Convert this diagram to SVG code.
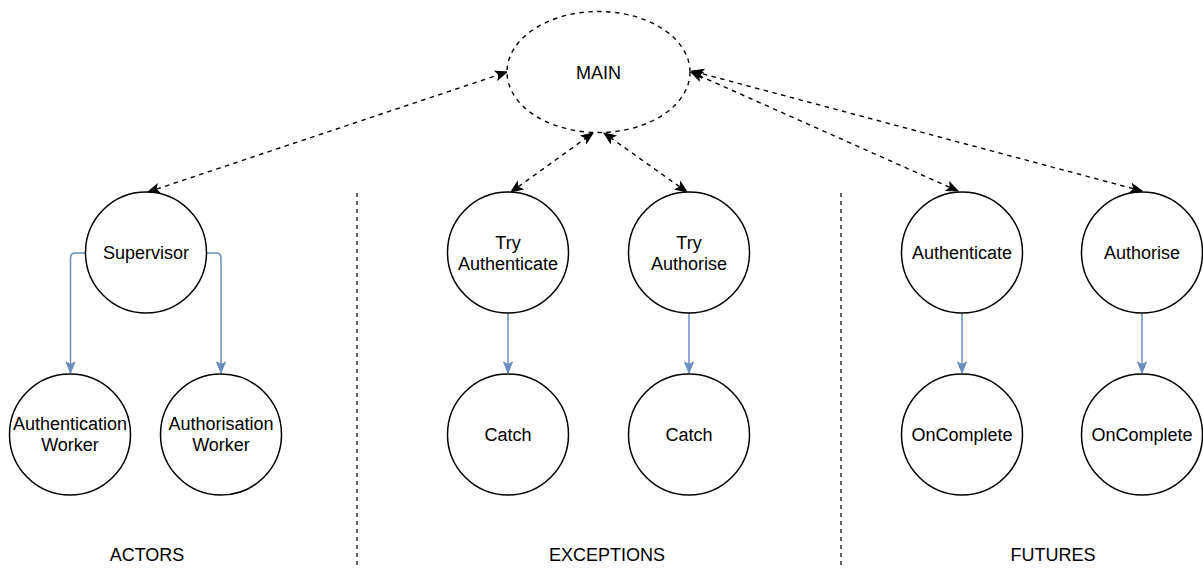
<svg xmlns="http://www.w3.org/2000/svg" width="1203" height="569" viewBox="0 0 1203 569">
<style>
.n{fill:#fff;stroke:#000;stroke-width:1.5}
.t{font-family:"Liberation Sans",Arial,sans-serif;font-size:18px;fill:#000;text-anchor:middle}
.d{fill:none;stroke:#000;stroke-width:1.4;stroke-dasharray:4.5 4.5}
.b{fill:none;stroke:#6c8ebf;stroke-width:1.5}
.v{fill:none;stroke:#000;stroke-width:1.2;stroke-dasharray:4 4}
</style>
<defs>
<marker id="ak" markerUnits="userSpaceOnUse" markerWidth="14" markerHeight="12" refX="12" refY="5" orient="auto-start-reverse" viewBox="0 0 14 10">
<path d="M1,0.5 L12,5 L1,9.5 L3.5,5 Z" fill="#000" stroke="#000" stroke-width="1"/>
</marker>
<marker id="ab" markerUnits="userSpaceOnUse" markerWidth="14" markerHeight="12" refX="12" refY="5" orient="auto" viewBox="0 0 14 10">
<path d="M1,0.5 L12,5 L1,9.5 L3.5,5 Z" fill="#6c8ebf" stroke="#6c8ebf" stroke-width="1"/>
</marker>
</defs>
<g id="dividers">
<line class="v" x1="357" y1="193" x2="357" y2="569"/>
<line class="v" x1="841" y1="193" x2="841" y2="569"/>
</g>
<g id="connectors">
<line class="d" x1="148" y1="192" x2="507" y2="72" marker-start="url(#ak)" marker-end="url(#ak)"/>
<line class="d" x1="511" y1="192" x2="593" y2="133" marker-start="url(#ak)" marker-end="url(#ak)"/>
<line class="d" x1="687" y1="192" x2="604" y2="133" marker-start="url(#ak)" marker-end="url(#ak)"/>
<line class="d" x1="958" y1="191" x2="691" y2="72" marker-start="url(#ak)" marker-end="url(#ak)"/>
<line class="d" x1="1142" y1="191" x2="692" y2="71" marker-start="url(#ak)" marker-end="url(#ak)"/>
<path class="b" d="M85.5,253 L75,253 Q70.5,253 70.5,258 L70.5,373" marker-end="url(#ab)"/>
<path class="b" d="M206.5,253 L216,253 Q221,253 221,258 L221,373" marker-end="url(#ab)"/>
<line class="b" x1="508" y1="313" x2="508" y2="373" marker-end="url(#ab)"/>
<line class="b" x1="689" y1="313" x2="689" y2="373" marker-end="url(#ab)"/>
<line class="b" x1="962" y1="313" x2="962" y2="373" marker-end="url(#ab)"/>
<line class="b" x1="1142" y1="313" x2="1142" y2="373" marker-end="url(#ab)"/>
</g>
<g id="main">
<ellipse cx="598.5" cy="72" rx="91.5" ry="60.5" fill="#fff" stroke="#000" stroke-width="1.4" stroke-dasharray="4.5 4.5"/>
<text class="t" x="598.5" y="78.5">MAIN</text>
</g>
<g id="supervisor">
<circle class="n" cx="146" cy="252.5" r="60.5"/>
<text class="t" x="146" y="259">Supervisor</text>
</g>
<g id="authentication-worker">
<circle class="n" cx="70" cy="434.5" r="60.5"/>
<text class="t" x="70" y="430">Authentication</text>
<text class="t" x="70" y="451">Worker</text>
</g>
<g id="authorisation-worker">
<circle class="n" cx="221" cy="434.5" r="60.5"/>
<text class="t" x="221" y="430">Authorisation</text>
<text class="t" x="221" y="451">Worker</text>
</g>
<g id="try-authenticate">
<circle class="n" cx="508" cy="252.5" r="60.5"/>
<text class="t" x="508" y="249">Try</text>
<text class="t" x="508" y="270">Authenticate</text>
</g>
<g id="try-authorise">
<circle class="n" cx="689" cy="252.5" r="60.5"/>
<text class="t" x="689" y="249">Try</text>
<text class="t" x="689" y="270">Authorise</text>
</g>
<g id="catch-1">
<circle class="n" cx="508" cy="434.5" r="60.5"/>
<text class="t" x="508" y="441">Catch</text>
</g>
<g id="catch-2">
<circle class="n" cx="689" cy="434.5" r="60.5"/>
<text class="t" x="689" y="441">Catch</text>
</g>
<g id="authenticate">
<circle class="n" cx="962" cy="252.5" r="60.5"/>
<text class="t" x="962" y="259">Authenticate</text>
</g>
<g id="authorise">
<circle class="n" cx="1142" cy="252.5" r="60.5"/>
<text class="t" x="1142" y="259">Authorise</text>
</g>
<g id="oncomplete-1">
<circle class="n" cx="962" cy="434.5" r="60.5"/>
<text class="t" x="962" y="441">OnComplete</text>
</g>
<g id="oncomplete-2">
<circle class="n" cx="1142" cy="434.5" r="60.5"/>
<text class="t" x="1142" y="441">OnComplete</text>
</g>
<g id="labels">
<text class="t" x="147" y="561">ACTORS</text>
<text class="t" x="607" y="561">EXCEPTIONS</text>
<text class="t" x="1053" y="561">FUTURES</text>
</g>
</svg>
